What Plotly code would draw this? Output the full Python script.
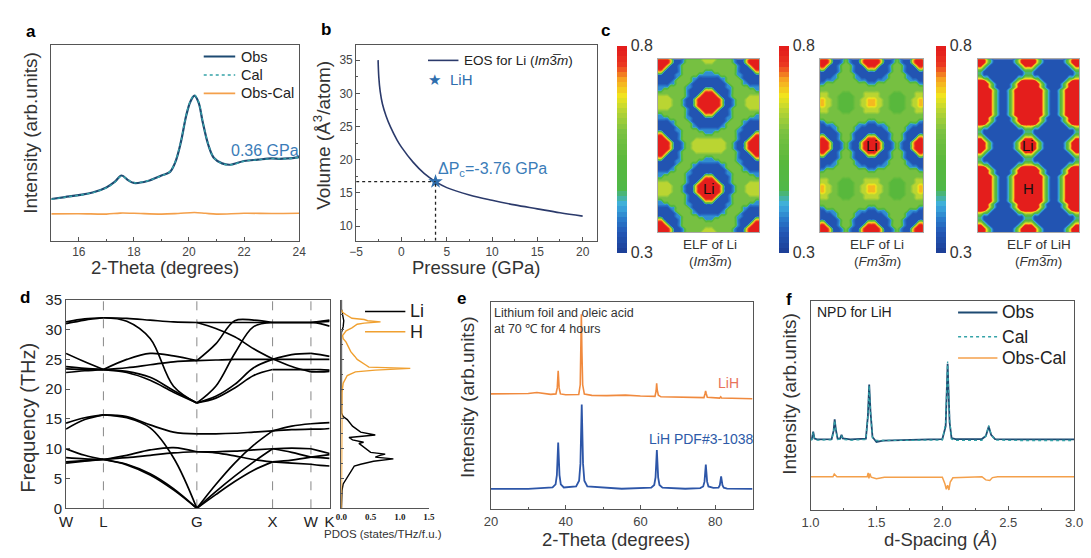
import plotly.graph_objects as go

W, H = 1091, 558
FONT = "Liberation Sans, Arial, Helvetica, sans-serif"

# ---------------- Panel a: XRD (0.36 GPa) ----------------
A_THETA = [15.0, 15.5, 16.0, 16.5, 17.0, 17.3, 17.55, 17.8, 18.0, 18.5, 19.0, 19.3, 19.5, 19.7, 19.9,
           20.05, 20.2, 20.35, 20.5, 20.7, 20.9, 21.2, 21.5, 22.0, 22.5, 23.0, 23.3, 23.6, 24.0]
A_OBS = [21.3, 22.3, 23.3, 24.6, 27.2, 30.0, 33.3, 30.8, 29.5, 30.5, 33.3, 35.0, 40.0, 50.0, 63.9,
         71.0, 74.1, 70.5, 60.5, 49.0, 42.4, 39.5, 38.8, 40.7, 41.4, 42.0, 41.8, 42.0, 42.7]
A_CAL = [21.1, 22.2, 23.2, 24.5, 27.0, 29.7, 33.0, 30.9, 29.6, 30.6, 33.1, 35.2, 40.3, 50.4, 64.2,
         71.3, 74.4, 70.8, 60.8, 49.3, 42.5, 39.4, 38.7, 40.6, 41.3, 41.9, 41.8, 41.9, 42.6]
A_DIFF_THETA = [15.0, 16.0, 17.0, 17.5, 18.0, 19.0, 19.6, 20.2, 20.6, 21.0, 22.0, 23.0, 24.0]
A_DIFF = [13.7, 13.8, 13.6, 14.1, 14.0, 13.6, 13.9, 14.4, 14.0, 13.6, 14.0, 13.9, 14.0]

# ---------------- Panel b: EOS ----------------
B_P = [-2.58, -2.5, -2.35, -2.1, -1.7, -1.2, -0.5, 0.0, 1.3, 2.5, 3.76, 5.0, 7.5, 10.0, 12.5, 15.0, 17.5, 20.0]
B_V = [35.0, 32.4, 30.3, 28.4, 26.6, 24.9, 23.0, 21.9, 19.6, 17.95, 16.7, 15.8, 14.7, 13.9, 13.2, 12.6, 12.0, 11.5]
P_STAR = [3.76]
V_STAR = [16.7]

# ---------------- Panel c: ELF maps ----------------
# Top-left quarter of each map (half-cell resolution), level codes;
# each map is symmetric about its vertical and horizontal centre lines.
ELF_LEVELS = [0.30, 0.35, 0.40, 0.45, 0.52, 0.58, 0.64, 0.70, 0.76, 0.80]
ELF_LI_BCC_Q = [
    "99997111255555666", "99997111255555566", "99971112555555555", "99711112555555555",
    "77111112555555522", "11111122555552222", "11111125555221111", "11111255555211111",
    "11112255552111111", "22225555522111111", "22555555521111177", "55555555521111799",
    "66665555521117999", "66666555211179999", "66666555211179999", "66666555211179999",
    "66665555521117999", "55555555521111799", "22555555521111177", "22225555522111111",
    "11112255552111111", "11111255555211111", "11111125555221111", "11111122555552222",
    "77111112555555522", "99711112555555555", "99971112555566666", "99997111255666666",
    "99997111255666666"]
ELF_LI_FCC_Q = [
    "99971112521117999", "99971112521117999", "99711125552111799", "77111125552111177",
    "11111125552111111", "11111255555211111", "11112255555221111", "11222555555522211",
    "22555555555555522", "55555555555555555", "55555555555555555", "66655554445555666",
    "66655544444555666", "77665544444556677", "77665544444556677", "77665544444556677",
    "66655544444555666", "66655554445555666", "55555555555555555", "55555555555555555",
    "22555555555555522", "11222555555522211", "11112255555221111", "11111255555211111",
    "11111125552111111", "77111125552111177", "99711125552111799", "99971112521117999",
    "99971112521117999"]
ELF_LIH_Q = [
    "99963111111136999", "99963111111136999", "99631111111113699", "66311111111111366",
    "33111111111111133", "33111111111111133", "66331111111113366", "99963111111136999",
    "99996311111369999", "99996311111369999", "99999631113699999", "99999631113699999",
    "99999631113699999", "99999631113699999", "99999631113699999", "99999631113699999",
    "99999631113699999", "99999631113699999", "99999631113699999", "99996311111369999",
    "99996311111369999", "99963111111136999", "66331111111113366", "33111111111111133",
    "33111111111111133", "66311111111111366", "99631111111113699", "99963111111136999",
    "99963111111136999"]

# ---------------- Panel d: phonon bands + PDOS ----------------
K_PATH_POS = [0, 38, 133, 210, 249, 268]
K_PATH_LABELS = ["W", "L", "G", "X", "W", "K"]
K_SAMPLES = [0, 19, 38, 61.75, 85.5, 109.25, 133, 152.25, 171.5, 190.75, 210, 229.5, 249, 258.5, 268]
BAND_U1 = [31.3, 31.8, 32.0, 31.9, 31.6, 31.3, 31.2, 31.2, 31.2, 31.2, 31.2, 31.2, 31.2, 31.4, 31.6]
BAND_U2 = [31.0, 31.6, 32.0, 31.4, 28.5, 20.5, 17.7, 20.5, 26.0, 30.5, 31.2, 31.2, 31.2, 31.0, 30.6]
BAND_U3 = [26.0, 24.6, 23.3, 25.0, 26.0, 25.6, 24.8, 27.6, 31.5, 31.6, 31.2, 31.2, 31.2, 31.3, 31.4]
BAND_U4 = [23.8, 23.5, 23.3, 23.6, 24.1, 24.6, 24.8, 24.9, 25.0, 25.0, 25.0, 25.0, 25.0, 25.0, 25.0]
BAND_U5 = [23.4, 23.3, 23.3, 23.0, 22.0, 19.8, 17.7, 18.8, 20.8, 23.6, 25.0, 25.8, 26.0, 25.8, 25.5]
BAND_U6 = [22.8, 23.1, 23.3, 22.8, 21.5, 19.5, 17.7, 18.5, 20.2, 22.3, 23.3, 23.3, 23.3, 23.3, 23.2]
BAND_U7 = [None, None, None, None, None, None, 31.2, 30.2, 28.8, 26.8, 25.1, 23.8, 22.9, 22.9, 23.0]
BAND_L1 = [14.3, 15.2, 15.7, 15.4, 14.0, 12.8, 12.5, 12.5, 12.6, 12.8, 13.0, 13.2, 13.3, 13.3, 13.4]
BAND_L2 = [13.3, 14.9, 15.7, 15.2, 13.5, 8.5, 0.0, 4.0, 7.6, 10.6, 13.0, 13.8, 14.2, 14.3, 14.4]
BAND_L3 = [10.0, 8.9, 8.2, 8.9, 9.8, 10.2, 9.5, 9.5, 9.6, 9.8, 10.0, 10.1, 10.0, 9.6, 9.2]
BAND_L4 = [8.5, 8.3, 8.2, 8.5, 8.9, 9.3, 9.5, 9.3, 8.8, 8.2, 7.8, 7.6, 7.4, 7.2, 7.1]
BAND_L5 = [7.8, 8.0, 8.2, 7.4, 5.8, 3.3, 0.0, 2.8, 5.4, 7.8, 10.0, 9.4, 8.6, 8.5, 8.4]
BAND_L6 = [7.6, 7.9, 8.2, 7.3, 5.6, 3.1, 0.0, 2.3, 4.5, 6.4, 7.8, 8.1, 8.6, 8.8, 9.0]
BANDS = [BAND_U1, BAND_U2, BAND_U3, BAND_U4, BAND_U5, BAND_U6, BAND_U7,
         BAND_L1, BAND_L2, BAND_L3, BAND_L4, BAND_L5, BAND_L6]
SEGMENTS = [(0, 2), (2, 6), (6, 10), (10, 12), (12, 14)]

PDOS_LI_FREQ = [0.0, 2.0, 3.0, 4.1, 4.9, 6.0, 6.8, 7.1, 7.4, 7.9, 8.3, 8.6, 8.9, 9.1, 9.4, 9.8, 10.1, 10.5,
                10.9, 11.1, 11.5, 11.9, 12.3, 12.8, 13.3, 13.8, 14.4, 14.9, 15.4, 16.0, 29.5, 30.5, 31.5,
                32.5, 33.5, 35.0]
PDOS_LI = [0.0, 0.005, 0.01, 0.03, 0.08, 0.16, 0.2, 0.22, 0.33, 0.55, 0.89, 0.58, 0.66, 0.75, 0.5, 0.45,
           0.42, 0.36, 0.3, 0.38, 0.19, 0.13, 0.58, 0.33, 0.25, 0.19, 0.14, 0.1, 0.03, 0.0, 0.0, 0.03,
           0.04, 0.02, 0.0, 0.0]
PDOS_H_FREQ = [0.0, 18.0, 19.5, 21.0, 22.3, 22.9, 23.2, 23.5, 23.7, 24.1, 24.4, 24.7, 25.0, 25.5, 26.3,
               27.1, 27.9, 28.5, 29.0, 29.8, 30.3, 30.9, 31.1, 31.3, 31.5, 31.7, 31.9, 32.5, 32.9, 33.3]
PDOS_H = [0.0, 0.0, 0.01, 0.03, 0.1, 0.24, 0.58, 1.18, 0.47, 0.41, 0.37, 0.33, 0.27, 0.23, 0.16, 0.12,
          0.08, 0.03, 0.02, 0.08, 0.18, 0.27, 0.39, 0.67, 0.45, 0.39, 0.18, 0.08, 0.02, 0.0]

# ---------------- Panel e: XRD of LiH ----------------
E_SAMPLE_THETA = [20, 30, 32.3, 34, 36, 37.4, 37.75, 37.9, 38.0, 38.1, 38.25, 38.6, 40, 43.5, 43.9, 44.05,
                  44.2, 44.35, 44.55, 45.0, 47, 51, 56, 60, 63.9, 64.2, 64.35, 64.5, 64.8, 65.5, 70, 77.0,
                  77.3, 77.45, 77.6, 77.9, 81.2, 81.5, 81.7, 85, 90]
E_SAMPLE = [55.6, 55.8, 56.3, 55.9, 55.4, 55.6, 58.5, 63.5, 66.8, 63.5, 58.5, 55.6, 55.2, 55.3, 60.0, 76.0,
            94.0, 76.0, 60.0, 55.5, 54.9, 54.8, 55.0, 54.6, 54.4, 57.0, 60.7, 57.5, 55.0, 54.2, 54.0, 53.8,
            55.8, 57.0, 55.8, 54.0, 53.6, 54.2, 53.6, 53.4, 53.3]
E_REF_THETA = [20, 30, 36.5, 37.3, 37.65, 37.85, 38.0, 38.15, 38.35, 38.7, 39.5, 42.8, 43.6, 43.95, 44.15,
               44.3, 44.45, 44.65, 45.0, 45.8, 55, 62.9, 63.7, 64.05, 64.25, 64.4, 64.55, 64.75, 65.1, 65.9,
               72, 76.0, 76.8, 77.15, 77.35, 77.5, 77.65, 77.85, 78.2, 79.5, 80.9, 81.25, 81.45, 81.6,
               81.75, 81.95, 82.3, 83.2, 90]
E_REF = [9.8, 9.8, 10.5, 12.0, 16.5, 25.5, 32.2, 25.5, 16.5, 12.0, 10.5, 11.0, 13.8, 22.0, 38.3, 50.5,
         38.3, 22.0, 13.8, 11.0, 9.9, 10.4, 11.7, 15.4, 22.9, 28.5, 22.9, 15.4, 11.7, 10.4, 9.9, 10.2,
         11.0, 13.3, 18.0, 21.5, 18.0, 13.3, 11.0, 10.3, 10.4, 11.6, 14.1, 15.9, 14.1, 11.6, 10.4, 10.0, 9.8]

# ---------------- Panel f: NPD of LiH ----------------
F_D = [1.0, 1.01, 1.02, 1.03, 1.05, 1.16, 1.175, 1.183, 1.192, 1.205, 1.225, 1.235, 1.245, 1.3, 1.42,
       1.435, 1.445, 1.455, 1.47, 1.5, 1.55, 1.7, 1.9, 2.0, 2.025, 2.04, 2.055, 2.07, 2.1, 2.3, 2.33,
       2.352, 2.37, 2.4, 2.6, 3.0]
F_OBS = [33.8, 34.0, 37.5, 34.2, 33.8, 34.0, 38.0, 43.4, 38.5, 34.2, 34.3, 36.0, 34.3, 33.8, 34.2,
         45.0, 60.0, 47.0, 35.0, 32.6, 33.2, 33.6, 33.8, 34.0, 40.0, 69.9, 42.0, 34.5, 34.0, 34.0, 35.5,
         40.0, 36.0, 34.0, 33.8, 33.8]
F_CAL = [33.5, 33.7, 37.2, 33.9, 33.5, 33.6, 37.6, 42.9, 38.2, 33.8, 33.9, 35.6, 33.9, 33.4, 33.8,
         44.8, 59.6, 46.6, 34.6, 33.3, 33.3, 33.3, 33.3, 33.5, 41.5, 71.0, 43.5, 34.0, 33.4, 33.4, 35.4,
         40.5, 36.2, 33.5, 33.3, 33.3]
F_DIFF_D = [1.0, 1.17, 1.18, 1.19, 1.2, 1.43, 1.437, 1.443, 1.45, 1.46, 1.5, 1.56, 1.9, 2.0, 2.02, 2.03,
            2.04, 2.05, 2.06, 2.08, 2.3, 2.33, 2.36, 2.38, 2.42, 3.0]
F_DIFF = [16.0, 16.0, 17.3, 16.5, 16.0, 16.0, 17.8, 15.2, 17.5, 15.8, 15.1, 15.8, 16.0, 15.8, 12.5, 10.0,
          12.0, 9.7, 13.5, 15.5, 16.0, 14.5, 14.2, 15.6, 16.0, 16.0]

# ---------------- colours ----------------
NAVY = "#1d4a72"
TEAL = "#35a3a8"
ORANGE = "#f4a04b"
BLUE_TXT = "#3a7cb8"
JET = [[0.0, "#1c3d94"], [0.1, "#2357b5"], [0.17, "#2a7ccb"], [0.24, "#3fb0df"], [0.32, "#4fb848"],
       [0.45, "#58b83c"], [0.6, "#7cc242"], [0.7, "#b6d433"], [0.78, "#f2e51d"], [0.86, "#f6a121"],
       [0.93, "#ec3a22"], [1.0, "#e41e1c"]]


def xd(x0, x1):
    return [x0 / W, x1 / W]


def yd(y0, y1):
    return [1 - y1 / H, 1 - y0 / H]


def T(text, x, y, size=14, color="#222", xa="center", ya="middle", angle=0, family=FONT):
    return dict(text=text, x=x / W, y=1 - y / H, xref="paper", yref="paper", xanchor=xa,
                yanchor=ya, showarrow=False, textangle=angle,
                font=dict(family=family, size=size, color=color))


def LN(x0, x1, y, color, width=2, dash="solid"):
    return dict(type="line", xref="paper", yref="paper", x0=x0 / W, x1=x1 / W, y0=1 - y / H,
                y1=1 - y / H, line=dict(color=color, width=width, dash=dash))


def ax(**kw):
    base = dict(showline=True, linecolor="#555", linewidth=1, mirror=True, ticks="inside",
                tickcolor="#555", ticklen=4, showgrid=False, zeroline=False,
                tickfont=dict(family=FONT, size=12, color="#444"))
    base.update(kw)
    return base


def full_map(quarter):
    # mirror the quarter about the vertical and horizontal centre lines
    nr = len(quarter)
    rows = [quarter[r] for r in range(nr)] + [quarter[nr - 2 - r] for r in range(nr - 1)]
    out = []
    for row in rows:
        full = row + row[-2::-1]
        out.append([ELF_LEVELS[int(ch)] for ch in full])
    return out


fig = go.Figure()

# ---- a ----
fig.add_trace(go.Scatter(x=A_THETA, y=A_OBS, mode="lines", line=dict(color=NAVY, width=2.2, shape="spline"),
                         xaxis="x", yaxis="y"))
fig.add_trace(go.Scatter(x=A_THETA, y=A_CAL, mode="lines",
                         line=dict(color=TEAL, width=1.4, dash="dot", shape="spline"), xaxis="x", yaxis="y"))
fig.add_trace(go.Scatter(x=A_DIFF_THETA, y=A_DIFF, mode="lines",
                         line=dict(color=ORANGE, width=1.6, shape="spline"), xaxis="x", yaxis="y"))

# ---- b ----
fig.add_trace(go.Scatter(x=B_P, y=B_V, mode="lines", line=dict(color="#2b3a6b", width=1.6, shape="spline"),
                         xaxis="x2", yaxis="y2"))
fig.add_trace(go.Scatter(x=P_STAR, y=V_STAR, mode="markers",
                         marker=dict(symbol="star", size=11, color="#2e6eae"), xaxis="x2", yaxis="y2"))

# ---- c ----
cbar_x = [618, 783, 943]
for i, quarter in enumerate([ELF_LI_BCC_Q, ELF_LI_FCC_Q, ELF_LIH_Q]):
    n = i + 3
    z = full_map(quarter)
    fig.add_trace(go.Contour(
        z=z, x=list(range(len(z[0]))), y=list(range(len(z))), colorscale=JET, zmin=0.3, zmax=0.8,
        autocontour=False, contours=dict(start=0.3, end=0.79, size=0.0125, coloring="fill", showlines=False),
        line=dict(width=0, smoothing=1.3), xaxis=f"x{n}", yaxis=f"y{n}", hoverinfo="skip",
        colorbar=dict(x=cbar_x[i] / W, xanchor="left", y=1 - 38 / H, yanchor="top", len=207,
                      lenmode="pixels", thickness=10, thicknessmode="pixels", xpad=0, ypad=0,
                      outlinewidth=0, tickvals=[0.3, 0.8], ticktext=["0.3", "0.8"], ticks="",
                      tickfont=dict(family=FONT, size=16, color="#333"))))

# ---- d ----
for band in BANDS:
    for i0, i1 in SEGMENTS:
        ys = band[i0:i1 + 1]
        if any(v is None for v in ys):
            continue
        fig.add_trace(go.Scatter(x=K_SAMPLES[i0:i1 + 1], y=ys, mode="lines",
                                 line=dict(color="black", width=1.7, shape="spline"),
                                 xaxis="x6", yaxis="y6"))
fig.add_trace(go.Scatter(x=PDOS_LI, y=PDOS_LI_FREQ, mode="lines", line=dict(color="black", width=1.4),
                         xaxis="x7", yaxis="y7"))
fig.add_trace(go.Scatter(x=PDOS_H, y=PDOS_H_FREQ, mode="lines", line=dict(color="#f0a030", width=1.4),
                         xaxis="x7", yaxis="y7"))

# ---- e ----
fig.add_trace(go.Scatter(x=E_SAMPLE_THETA, y=E_SAMPLE, mode="lines", line=dict(color="#f08a3e", width=1.6),
                         xaxis="x8", yaxis="y8"))
fig.add_trace(go.Scatter(x=E_REF_THETA, y=E_REF, mode="lines", line=dict(color="#2d56a8", width=1.8),
                         xaxis="x8", yaxis="y8"))

# ---- f ----
fig.add_trace(go.Scatter(x=F_D, y=F_OBS, mode="lines", line=dict(color=NAVY, width=1.8),
                         xaxis="x9", yaxis="y9"))
fig.add_trace(go.Scatter(x=F_D, y=F_CAL, mode="lines", line=dict(color=TEAL, width=1.3, dash="dot"),
                         xaxis="x9", yaxis="y9"))
fig.add_trace(go.Scatter(x=F_DIFF_D, y=F_DIFF, mode="lines", line=dict(color=ORANGE, width=1.5),
                         xaxis="x9", yaxis="y9"))

hm_axis = dict(showline=True, linecolor="#aaa", linewidth=1, mirror=True, ticks="", showticklabels=False,
               showgrid=False, zeroline=False)

layout = dict(
    width=W, height=H, autosize=False, margin=dict(l=0, r=0, t=0, b=0),
    paper_bgcolor="white", plot_bgcolor="white", showlegend=False,
    xaxis=ax(domain=xd(43, 295), range=[15, 24], tick0=16, dtick=2, anchor="y",
             minor=dict(ticks="inside", ticklen=2, dtick=1, tickcolor="#555")),
    yaxis=ax(domain=yd(37, 239), range=[0, 100], showticklabels=False, ticks="", anchor="x"),
    xaxis2=ax(domain=xd(353, 598), range=[-5, 21.6], tick0=-5, dtick=5, anchor="y2",
              minor=dict(ticks="inside", ticklen=2, dtick=2.5, tickcolor="#555")),
    yaxis2=ax(domain=yd(37, 239), range=[7.8, 37.3], tick0=0, dtick=5, anchor="x2",
              minor=dict(ticks="inside", ticklen=2, dtick=2.5, tickcolor="#555")),
    xaxis3=dict(hm_axis, domain=xd(660, 763), range=[0, 32], anchor="y3"),
    yaxis3=dict(hm_axis, domain=yd(52, 230), range=[56, 0], anchor="x3"),
    xaxis4=dict(hm_axis, domain=xd(825, 929), range=[0, 32], anchor="y4"),
    yaxis4=dict(hm_axis, domain=yd(52, 230), range=[56, 0], anchor="x4"),
    xaxis5=dict(hm_axis, domain=xd(985, 1088), range=[0, 32], anchor="y5"),
    yaxis5=dict(hm_axis, domain=yd(52, 230), range=[56, 0], anchor="x5"),
    xaxis6=ax(domain=xd(58, 326), range=[0, 268], tickvals=K_PATH_POS, ticktext=K_PATH_LABELS,
              ticks="", anchor="y6", tickfont=dict(family=FONT, size=15, color="#222")),
    yaxis6=ax(domain=yd(300, 515), range=[0, 35], dtick=5, anchor="x6",
              tickfont=dict(family=FONT, size=15, color="#222")),
    xaxis7=ax(domain=xd(338, 427), range=[0, 1.5], tickvals=[0, 0.5, 1.0, 1.5], tickformat=".1f",
              mirror=False, ticks="", anchor="y7",
              tickfont=dict(family="Liberation Serif, Times New Roman, serif", size=9, color="#222",
                            weight="bold")),
    yaxis7=ax(domain=yd(300, 515), range=[0, 35], showticklabels=False, mirror=False, dtick=5,
              ticklen=3, anchor="x7", minor=dict(ticks="inside", ticklen=2, dtick=2.5, tickcolor="#555")),
    xaxis8=ax(domain=xd(490, 756), range=[20, 90], tick0=20, dtick=20, anchor="y8",
              tickfont=dict(family=FONT, size=13, color="#444"),
              minor=dict(ticks="inside", ticklen=2, dtick=10, tickcolor="#555")),
    yaxis8=ax(domain=yd(302, 516), range=[0, 100], showticklabels=False, ticks="", anchor="x8"),
    xaxis9=ax(domain=xd(815, 1083), range=[1.0, 3.0], tick0=1.0, dtick=0.5, tickformat=".1f",
              anchor="y9", tickfont=dict(family=FONT, size=13, color="#444"),
              minor=dict(ticks="inside", ticklen=2, dtick=0.25, tickcolor="#555")),
    yaxis9=ax(domain=yd(301, 517), range=[0, 100], showticklabels=False, ticks="", anchor="x9"),
)

shapes = []
shapes += [LN(198, 230, 49, NAVY, 2.2), LN(198, 230, 68, TEAL, 1.6, "dot"), LN(198, 230, 87, ORANGE, 1.6)]
shapes.append(LN(426, 457, 53, "#2b3a6b", 1.6))
shapes.append(dict(type="line", xref="x2", yref="y2", x0=-5, x1=P_STAR[0], y0=V_STAR[0], y1=V_STAR[0],
                   line=dict(color="#222", width=1.3, dash="dot")))
shapes.append(dict(type="line", xref="x2", yref="y2", x0=P_STAR[0], x1=P_STAR[0], y0=7.8, y1=V_STAR[0],
                   line=dict(color="#222", width=1.3, dash="dot")))
for kx in K_PATH_POS[1:5]:
    shapes.append(dict(type="line", xref="x6", yref="y6", x0=kx, x1=kx, y0=0, y1=35,
                       line=dict(color="#888", width=1, dash="dash"), layer="below"))
shapes += [LN(362, 403, 312, "black", 1.5), LN(362, 403, 333, "#f0a030", 1.5)]
shapes += [LN(965, 1005, 313, NAVY, 2), LN(965, 1005, 338, TEAL, 1.6, "dot"), LN(965, 1005, 360, ORANGE, 1.6)]

IM3M = "(<i>Im</i>3\u0305<i>m</i>)"
FM3M = "(<i>Fm</i>3\u0305<i>m</i>)"
anns = [
    T("<b>a</b>", 22, 23, 17, "black"), T("<b>b</b>", 322, 21, 17, "black"), T("<b>c</b>", 607, 22, 17, "black"),
    T("<b>d</b>", 16, 298, 17, "black"), T("<b>e</b>", 460, 299, 17, "black"), T("<b>f</b>", 793, 300, 17, "black"),
    T("Intensity (arb.units)", 21, 128, 19, "#333", angle=-90),
    T("2-Theta (degrees)", 159, 267, 18.5, "#333"),
    T("Obs", 234, 49, 14.5, "#222", xa="left"), T("Cal", 234, 68, 14.5, "#222", xa="left"),
    T("Obs-Cal", 234, 87, 14.5, "#222", xa="left"),
    T("0.36 GPa", 260, 146, 16, BLUE_TXT),
    T("Volume (Å<sup>3</sup>/atom)", 318, 130, 19, "#333", angle=-90),
    T("Pressure (GPa)", 475, 267, 18.5, "#333"),
    T("EOS for Li " + IM3M, 461, 53, 13.5, "#222", xa="left"),
    T("\u2605", 433, 73, 15, "#2e6eae"), T("LiH", 446, 73, 15, "#2e6eae", xa="left"),
    T("ΔP<sub>c</sub>=-3.76 GPa", 434, 166, 16, BLUE_TXT, xa="left"),
    T("ELF of Li", 713, 243, 13.5, "#333"), T(IM3M, 713, 260, 13.5, "#333"),
    T("ELF of Li", 883, 243, 13.5, "#333"), T(FM3M, 883, 260, 13.5, "#333"),
    T("ELF of LiH", 1047, 243, 13.5, "#333"), T(FM3M, 1047, 260, 13.5, "#333"),
    dict(text="Li", x=16, y=42, xref="x3", yref="y3", showarrow=False, font=dict(family=FONT, size=15, color="#111")),
    dict(text="Li", x=16, y=28, xref="x4", yref="y4", showarrow=False, font=dict(family=FONT, size=15, color="#111")),
    dict(text="Li", x=16, y=28, xref="x5", yref="y5", showarrow=False, font=dict(family=FONT, size=15, color="#111")),
    dict(text="H", x=16, y=42, xref="x5", yref="y5", showarrow=False, font=dict(family=FONT, size=15, color="#111")),
    T("Frequency (THz)", 19, 422, 20, "#333", angle=-90),
    T("PDOS (states/THz/f.u.)", 380, 541, 11.5, "#333"),
    T("Li", 406, 312, 18, "#222", xa="left"), T("H", 406, 333, 18, "#222", xa="left"),
    T("Intensity (arb.units)", 467, 400, 19, "#333", angle=-90),
    T("2-Theta (degrees)", 617, 547, 18.5, "#333"),
    T("Lithium foil and oleic acid<br>at 70 \u2103 for 4 hours", 491, 304, 12.5, "#333", xa="left", ya="top"),
    T("LiH", 732, 386, 14, "#e8735a"),
    T("LiH PDF#3-1038", 704, 444, 14, "#2d5aa8"),
    T("Intensity (arb.units)", 794, 397, 19, "#333", angle=-90),
    T("d-Spacing (<i>Å</i>)", 947, 547, 18.5, "#333"),
    T("NPD for LiH", 820, 313, 14, "#222", xa="left"),
    T("Obs", 1008, 313, 17.5, "#222", xa="left"), T("Cal", 1008, 338, 17.5, "#222", xa="left"),
    T("Obs-Cal", 1008, 360, 17.5, "#222", xa="left"),
]
for a in anns:
    a.setdefault("align", "left")

layout["shapes"] = shapes
layout["annotations"] = anns
fig.update_layout(**layout)
fig.write_html("out.html")
